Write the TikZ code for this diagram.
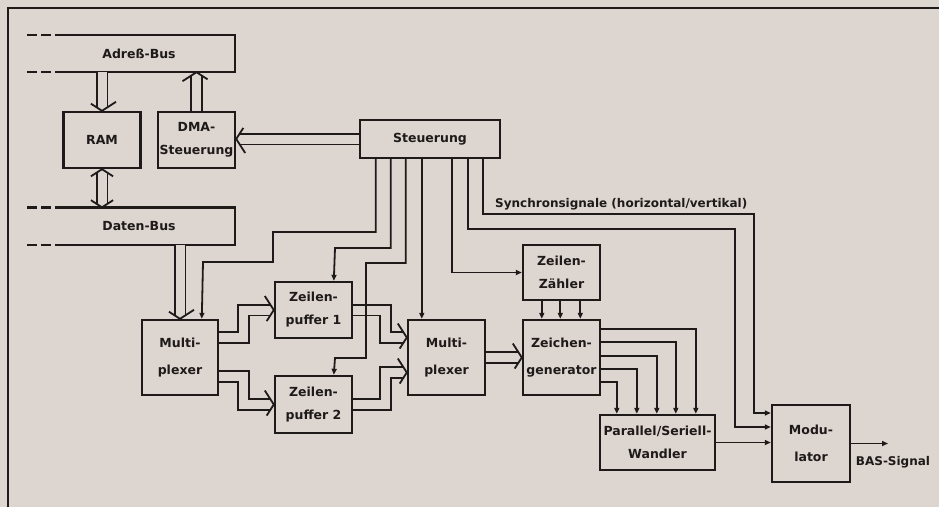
\documentclass[tikz,border=0pt]{standalone}
\usepackage{fontspec}
\setmainfont{DejaVu Sans}
\usetikzlibrary{arrows.meta,calc,decorations.markings}
\definecolor{paper}{RGB}{221,213,207}
\definecolor{ink}{RGB}{30,26,26}
% open chevron for the wide (double line) paths
\newcommand{\hollowtip}{%
  \pgfsetinnerlinewidth{0pt}\pgfsetlinewidth{1.8pt}\pgfsetstrokecolor{ink}\pgfsetmiterjoin
  \pgfpathmoveto{\pgfqpoint{-9pt}{14pt}}\pgfpathlineto{\pgfpointorigin}\pgfpathlineto{\pgfqpoint{-9pt}{-14pt}}%
  \pgfusepath{stroke}}

\begin{document}
\begin{tikzpicture}[x=1pt, y=-1pt,
    box/.style={rectangle, draw=ink, line width=2.4pt, fill=paper, minimum width=77pt, minimum height=56pt, align=center, inner sep=1pt, text=ink, font=\fontsize{12.5}{23}\selectfont\bfseries},
    tallbox/.style={box, minimum height=75pt, font=\fontsize{12.5}{27}\selectfont\bfseries},
    bus/.style={rectangle, minimum width=192pt, minimum height=37pt, text=ink, font=\fontsize{12.5}{16}\selectfont\bfseries},
    lbl/.style={text=ink, inner sep=1pt, font=\fontsize{12}{16}\selectfont\bfseries},
    wide/.style={draw=ink, line width=1.8pt, double=paper, double distance=9pt, shorten >=3.5pt,
        postaction={decorate, decoration={markings, mark=at position 1 with {\hollowtip}}}},
    widetwo/.style={wide, shorten <=3.5pt,
        postaction={decorate, decoration={markings, mark=at position 0 with {\pgftransformrotate{180}\hollowtip}}}},
    sig/.style={draw=ink, line width=1.8pt, -{Triangle[length=6pt,width=5pt]}},
    >=Stealth
]
    % paper and frame
    \fill[paper] (0,0) rectangle (939,507);
    \useasboundingbox (0,0) rectangle (939,507);
    \draw[ink, line width=2.4pt] (8,507) -- (8,8) -- (939,8);

    % Buses
    \node[bus] (adr) at (139,53.5) {Adreß-Bus};
    \node[bus] (dat) at (139,226) {Daten-Bus};
    \foreach \b in {adr,dat} {
        \draw[ink, line width=2.4pt] ($(\b.north west)+(22,0)$) -- (\b.north east) -- (\b.south east) -- ($(\b.south west)+(22,0)$);
        \draw[ink, line width=2.4pt, dash pattern=on 10pt off 4pt] ($(\b.north west)+(22,0)$) -- ++(-40,0);
        \draw[ink, line width=2.4pt, dash pattern=on 10pt off 4pt] ($(\b.south west)+(22,0)$) -- ++(-40,0);
    }

    % Blocks
    \node[box] (ram) at (102,140) {RAM};
    \node[box] (dma) at (196.5,140) {DMA-\\Steuerung};
    \node[box, minimum width=140pt, minimum height=38pt] (steu) at (430,139) {Steuerung};
    \node[tallbox, minimum width=76pt] (mux1) at (180,357.5) {Multi-\\plexer};
    \node[box] (zp1) at (313.5,310) {Zeilen-\\puffer 1};
    \node[box, minimum height=57pt] (zp2) at (313.5,404.5) {Zeilen-\\puffer 2};
    \node[tallbox] (mux2) at (446.5,357.5) {Multi-\\plexer};
    \node[box, minimum height=55pt] (zz) at (561.5,272.5) {Zeilen-\\Zähler};
    \node[tallbox] (zg) at (561.5,357.5) {Zeichen-\\generator};
    \node[box, minimum width=115pt, minimum height=55pt] (psw) at (657.5,442.5) {Parallel/Seriell-\\Wandler};
    \node[tallbox, minimum width=78pt, minimum height=77pt] (mod) at (811,443.5) {Modu-\\lator};

    % Wide data paths
    \draw[wide] (adr.south -| ram.north) -- (ram.north);
    \draw[wide] (dma.north) -- (dma.north |- adr.south);
    \draw[widetwo] (ram.south) -- (ram.south |- dat.north);
    \draw[wide] (steu.west) -- (steu.west -| dma.east);
    \draw[wide] (dat.south -| mux1.north) -- (mux1.north);
    \draw[wide] ($(mux1.east)+(0,-20)$) -- ++(24.5,0) |- (zp1.west);
    \draw[wide] ($(mux1.east)+(0,19)$) -- ++(24.5,0) |- (zp2.west);
    \draw[wide] (zp1.east) -- ++(32.5,0) |- ($(mux2.west)+(0,-20)$);
    \draw[wide] (zp2.east) -- ++(32.5,0) |- ($(mux2.west)+(0,15)$);
    \draw[wide] (mux2.east) -- (zg.west);

    % Control lines from Steuerung
    \draw[sig] ($(steu.south west)+(17,0)$) |- (273,232) |- (203,262) -- ($(mux1.north west)+(61,0)$);
    \draw[sig] ($(steu.south west)+(32,0)$) |- (335,248) -- ($(zp1.north west)+(60,0)$);
    \draw[sig] ($(steu.south west)+(47,0)$) |- (366,263) |- (335,358) -- ($(zp2.north west)+(60,0)$);
    \draw[sig] ($(steu.south west)+(63,0)$) -- ($(mux2.north west)+(15,0)$);
    \draw[sig] ($(steu.south west)+(93,0)$) |- (zz.west);
    \draw[sig] ($(steu.south west)+(109,0)$) |- (735,229) |- ($(mod.west)+(0,-16.5)$);
    \draw[sig] ($(steu.south west)+(124,0)$) |- (754,214) |- ($(mod.west)+(0,-30.5)$);
    \node[lbl, anchor=south west] (sync) at (494,211) {Synchronsignale (horizontal/vertikal)};

    % Zeilenzaehler and Zeichengenerator
    \foreach \dx in {20,38.5,58.5}
        \draw[sig] ($(zz.south west)+(\dx,0)$) -- ($(zg.north west)+(\dx,0)$);
    \foreach \dy/\dx in {10/97,23/77,37/58,50/38,63/18}
        \draw[sig] ($(zg.north east)+(0,\dy)$) -| ($(psw.north west)+(\dx,0)$);

    % Output
    \draw[sig] (psw.east) -- (psw.east -| mod.west);
    \coordinate (bas) at (888,443.5);
    \draw[sig] (mod.east) -- (bas);
    \node[lbl] (baslbl) at (893,462) {BAS-Signal};
\end{tikzpicture}
\end{document}
